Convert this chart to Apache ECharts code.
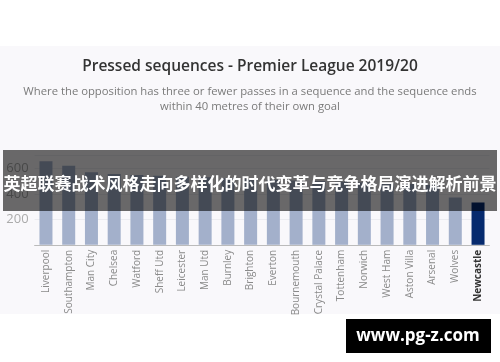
<html>
<head>
    <meta charset="utf-8">
    <title>Pressed sequences</title>
    <script src="https://cdn.jsdelivr.net/npm/echarts@6/dist/echarts.min.js"></script>
    <style>
        body { margin: 0; background: #fff; }
    </style>
</head>
<body>
    <div id="main" style="width: 500px;height:362px;"></div>
    <script type="text/javascript">
        // teams, left to right
        var teams = ['Liverpool', 'Southampton', 'Man City', 'Chelsea', 'Watford', 'Sheff Utd',
            'Leicester', 'Man Utd', 'Burnley', 'Brighton', 'Everton', 'Bournemouth',
            'Crystal Palace', 'Tottenham', 'Norwich', 'West Ham', 'Aston Villa', 'Arsenal',
            'Wolves', 'Newcastle'];
        // pressed sequences
        var pressed = [656, 620, 570, 555, 547, 541, 535, 530, 522, 516, 510, 505,
            500, 495, 490, 484, 478, 470, 371, 332];
        var highlight = 'Newcastle';

        var myChart = echarts.init(document.getElementById('main'));

        var option = {
            backgroundColor: '#fff',
            title: {
                text: 'Pressed sequences - Premier League 2019/20',
                subtext: 'Where the opposition has three or fewer passes in a sequence and the sequence ends\nwithin 40 metres of their own goal',
                left: 'center',
                top: 54,
                itemGap: 9,
                textStyle: {
                    fontFamily: 'Open Sans',
                    fontSize: 15.5,
                    fontWeight: 600,
                    color: '#333'
                },
                subtextStyle: {
                    fontFamily: 'Open Sans',
                    fontSize: 11.3,
                    color: '#7a7a7a',
                    lineHeight: 15
                }
            },
            grid: {
                left: 34.6,
                right: 10.6,
                top: 155.6,
                bottom: 117.2
            },
            xAxis: {
                type: 'category',
                data: teams,
                axisTick: { show: false },
                axisLine: { lineStyle: { color: '#bbb' } },
                axisLabel: {
                    rotate: 90,
                    interval: 0,
                    margin: 5,
                    fontFamily: 'Open Sans',
                    fontSize: 10,
                    color: '#8a8a8a',
                    formatter: function (v) {
                        return v === highlight ? '{b|' + v + '}' : v;
                    },
                    rich: {
                        b: { fontWeight: 'bold', color: '#333', fontSize: 10, fontFamily: 'Open Sans' }
                    }
                }
            },
            yAxis: {
                type: 'value',
                min: 0,
                max: 700,
                interval: 200,
                axisLine: { show: false },
                axisTick: { show: false },
                axisLabel: {
                    showMinLabel: false,
                    showMaxLabel: false,
                    margin: 6,
                    fontFamily: 'Open Sans',
                    fontSize: 13,
                    color: '#ababab'
                },
                splitLine: { lineStyle: { color: '#ececf0' } }
            },
            series: [{
                type: 'bar',
                data: pressed.map(function (v, i) {
                    return {
                        value: v,
                        itemStyle: { color: teams[i] === highlight ? '#062a6e' : '#a3b0cb' }
                    };
                }),
                barWidth: 13
            }],
            graphic: [
                {
                    type: 'rect', z: -10, silent: true,
                    shape: { x: 0, y: 46, width: 500, height: 268 },
                    style: { fill: '#f9f8fb' }
                },
                {
                    type: 'rect', z: 100, silent: true,
                    shape: { x: 3, y: 150, width: 494, height: 61 },
                    style: { fill: 'rgba(0,0,0,0.58)' }
                },
                {
                    type: 'text', z: 101, silent: true,
                    x: 250, y: 184,
                    style: {
                        text: '英超联赛战术风格走向多样化的时代变革与竞争格局演进解析前景',
                        fill: '#fff',
                        font: 'bold 17px "Noto Sans CJK SC"',
                        textAlign: 'center',
                        textVerticalAlign: 'middle'
                    }
                },
                {
                    type: 'rect', z: 100, silent: true,
                    shape: { x: 346, y: 319, width: 145, height: 34 },
                    style: { fill: '#000' }
                },
                {
                    type: 'text', z: 101, silent: true,
                    x: 418, y: 336,
                    style: {
                        text: 'www.pg-z.com',
                        fill: '#fff',
                        font: 'bold 17px "Open Sans"',
                        textAlign: 'center',
                        textVerticalAlign: 'middle'
                    }
                }
            ]
        };

        myChart.setOption(option);
    </script>
</body>
</html>
